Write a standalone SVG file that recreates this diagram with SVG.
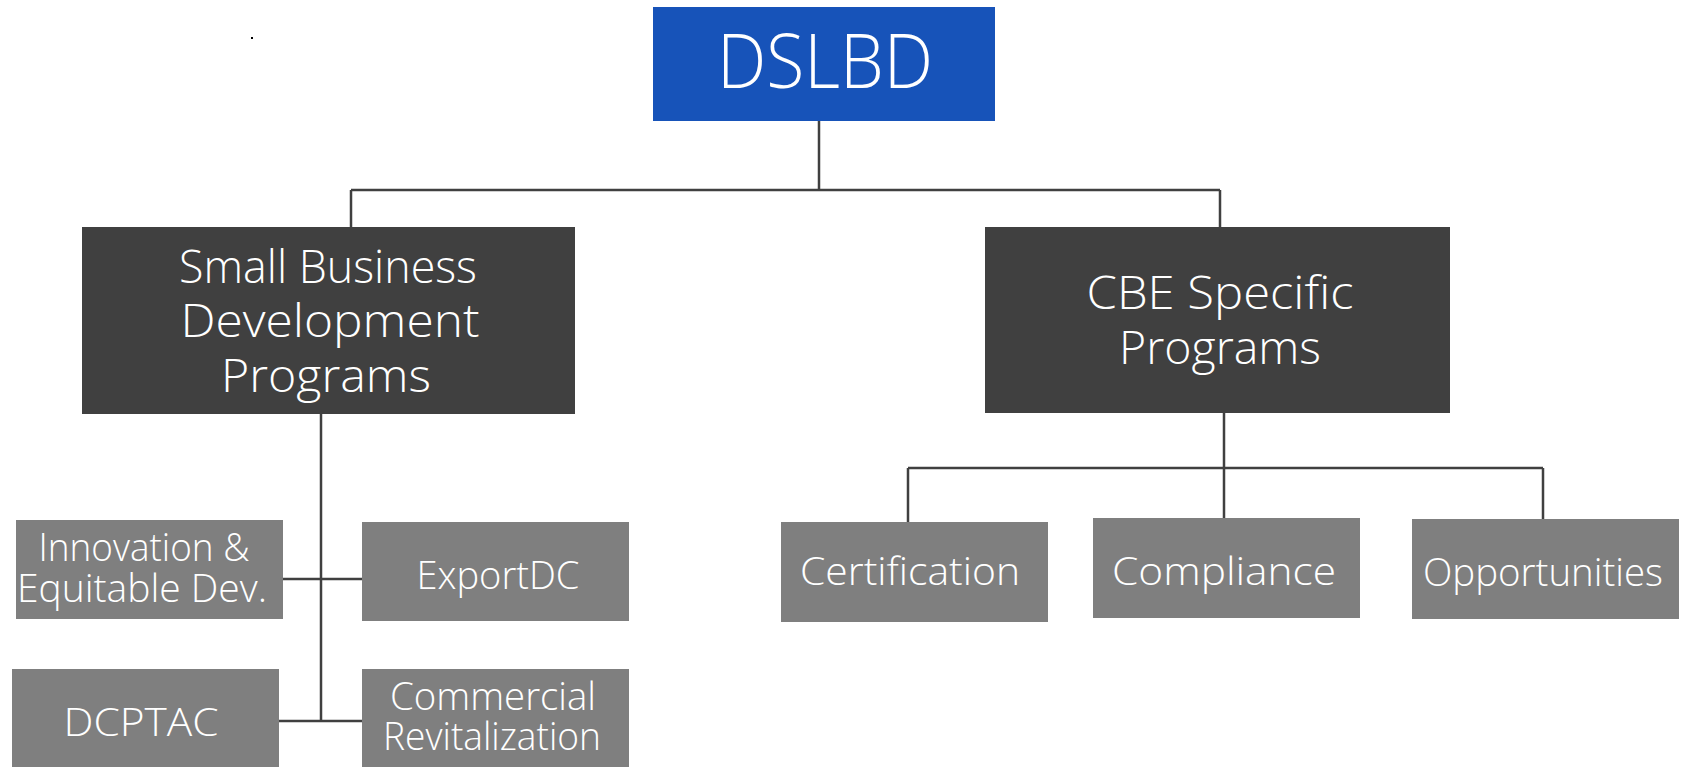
<svg xmlns="http://www.w3.org/2000/svg" width="1683" height="767" viewBox="0 0 1683 767">
<style>
.ln{stroke:#404040;stroke-width:2.5;fill:none}
.top{fill:#1753B9}
.mid{fill:#404040}
.low{fill:#7F7F7F}
text{font-family:"Open Sans","DejaVu Sans","Liberation Sans",sans-serif;font-weight:300;fill:#FFFFFF;text-anchor:middle}
.t1{font-size:76px}
.t2{font-size:46px}
.t3{font-size:38px}
</style>
<rect width="1683" height="767" fill="#FFFFFF"/>
<rect x="251" y="37" width="2" height="2" fill="#000000"/>
<g id="connectors">
<path class="ln" d="M819 121V190M351 190H1220M351 190V227M1220 190V227"/>
<path class="ln" d="M321 414V721M283 579H362M279 721H362"/>
<path class="ln" d="M1224 413V518M908 468H1543M908 468V522M1543 468V519"/>
</g>
<g id="dslbd">
<rect class="top" x="653" y="7" width="342" height="114"/>
<text class="t1" x="825" y="88" textLength="216" lengthAdjust="spacingAndGlyphs">DSLBD</text>
</g>
<g id="sbdp">
<rect class="mid" x="82" y="227" width="493" height="187"/>
<text class="t2" x="328" y="283" textLength="298" lengthAdjust="spacingAndGlyphs">Small Business</text>
<text class="t2" x="330" y="337" textLength="299" lengthAdjust="spacingAndGlyphs">Development</text>
<text class="t2" x="326" y="392" textLength="210" lengthAdjust="spacingAndGlyphs">Programs</text>
</g>
<g id="cbe">
<rect class="mid" x="985" y="227" width="465" height="186"/>
<text class="t2" x="1220" y="309" textLength="267" lengthAdjust="spacingAndGlyphs">CBE Specific</text>
<text class="t2" x="1220" y="364" textLength="202" lengthAdjust="spacingAndGlyphs">Programs</text>
</g>
<g id="innovation">
<rect class="low" x="16" y="520" width="267" height="99"/>
<text class="t3" x="144" y="561" textLength="211" lengthAdjust="spacingAndGlyphs">Innovation &amp;</text>
<text class="t3" x="142" y="602" textLength="250" lengthAdjust="spacingAndGlyphs">Equitable Dev.</text>
</g>
<g id="exportdc">
<rect class="low" x="362" y="522" width="267" height="99"/>
<text class="t3" x="498" y="589" textLength="163" lengthAdjust="spacingAndGlyphs">ExportDC</text>
</g>
<g id="dcptac">
<rect class="low" x="12" y="669" width="267" height="98"/>
<text class="t3" x="141" y="736" textLength="155" lengthAdjust="spacingAndGlyphs">DCPTAC</text>
</g>
<g id="commercial">
<rect class="low" x="362" y="669" width="267" height="98"/>
<text class="t3" x="493" y="710" textLength="206" lengthAdjust="spacingAndGlyphs">Commercial</text>
<text class="t3" x="492" y="750" textLength="218" lengthAdjust="spacingAndGlyphs">Revitalization</text>
</g>
<g id="certification">
<rect class="low" x="781" y="522" width="267" height="100"/>
<text class="t3" x="910" y="585" textLength="220" lengthAdjust="spacingAndGlyphs">Certification</text>
</g>
<g id="compliance">
<rect class="low" x="1093" y="518" width="267" height="100"/>
<text class="t3" x="1224" y="585" textLength="224" lengthAdjust="spacingAndGlyphs">Compliance</text>
</g>
<g id="opportunities">
<rect class="low" x="1412" y="519" width="267" height="100"/>
<text class="t3" x="1543" y="586" textLength="240" lengthAdjust="spacingAndGlyphs">Opportunities</text>
</g>
</svg>
